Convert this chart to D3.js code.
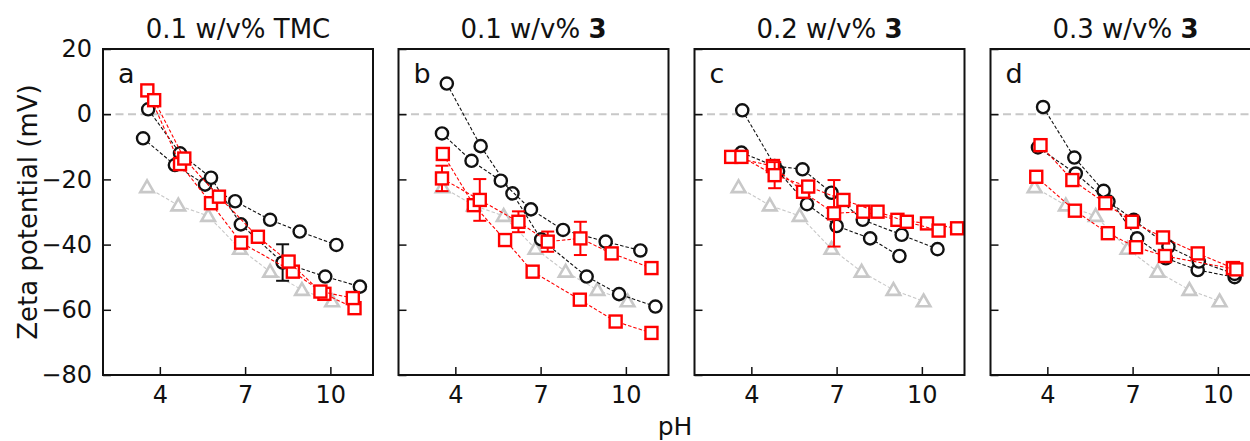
<!DOCTYPE html>
<html><head><meta charset="utf-8">
<script src="https://cdn.jsdelivr.net/npm/d3@7"></script>
<style>body{margin:0;background:#fff}svg{display:block}text{font-family:"DejaVu Sans",sans-serif}</style>
</head><body><div id="chart"></div>
<script>
// ---------- data ----------
const panelTitles = ["0.1 w/v% ", "0.1 w/v% ", "0.2 w/v% ", "0.3 w/v% "];
const panelTitleBold = ["", "3", "3", "3"];
const panelTitleTail = ["TMC", "", "", ""];
const panelLetters = ["a", "b", "c", "d"];
const xTicks = [4, 7, 10];
const yTicks = [20, 0, -20, -40, -60, -80];

// gray reference (same in every panel)
const triPH = [3.55, 4.65, 5.7, 6.82, 7.88, 9.0, 10.06];
const triZ  = [-22.4, -28.0, -31.2, -41.3, -48.3, -53.9, -57.4];

// panel a
const aBlk1PH = [3.41, 4.53, 5.59, 6.65, 7.88, 8.92, 10.21];
const aBlk1Z  = [-7.4, -15.6, -21.6, -26.7, -32.4, -36.0, -40.1];
const aBlk2PH = [3.59, 4.71, 5.8, 6.85, 8.32, 9.82, 11.04];
const aBlk2Z  = [1.5, -12.0, -19.5, -33.8, -45.5, -49.8, -52.9];
const aBlk2E  = [0, 0, 0, 0, 5.6, 0, 0];
const aRed1PH = [3.56, 4.71, 5.8, 6.86, 8.68, 9.79, 10.85];
const aRed1Z  = [7.3, -15.3, -27.3, -39.4, -48.3, -55.1, -59.5];
const aRed2PH = [3.8, 4.86, 6.08, 7.45, 8.53, 9.65, 10.79];
const aRed2Z  = [4.3, -13.6, -25.3, -37.6, -45.2, -54.4, -56.4];

// panel b
const bBlk1PH = [3.70, 4.89, 6.01, 7.02, 8.62, 9.76, 11.04];
const bBlk1Z  = [9.4, -9.8, -24.3, -38.4, -49.8, -55.2, -59.0];
const bBlk2PH = [3.53, 4.57, 5.6, 6.66, 7.79, 9.29, 10.51];
const bBlk2Z  = [-5.9, -14.3, -20.4, -29.2, -35.5, -39.1, -41.8];
const bRed1PH = [3.56, 4.65, 5.75, 6.72, 8.38, 9.64, 10.9];
const bRed1Z  = [-12.2, -27.9, -38.6, -48.3, -56.9, -63.6, -67.1];
const bRed2PH = [3.53, 4.86, 6.22, 7.25, 8.40, 9.5, 10.9];
const bRed2Z  = [-19.7, -26.3, -33.0, -39.1, -38.1, -42.7, -47.2];
const bRed2E  = [3.9, 6.4, 3.2, 3.1, 5.1, 0, 0];

// panel c
const cBlk1PH = [3.68, 4.94, 5.96, 7.0, 8.18, 9.21];
const cBlk1Z  = [1.2, -17.5, -27.6, -34.3, -38.1, -43.5];
const cBlk2PH = [3.65, 4.82, 5.8, 6.82, 7.92, 9.29, 10.55];
const cBlk2Z  = [-11.8, -15.9, -16.9, -24.1, -32.4, -37.0, -41.4];
const cRed1PH = [3.29, 4.76, 5.82, 6.91, 7.94, 9.14, 10.18, 11.24];
const cRed1Z  = [-13.1, -15.9, -23.8, -30.4, -29.9, -32.4, -33.5, -35.0];
const cRed1E  = [0, 0, 0, 10.2, 0, 0, 0, 0];
const cRed2PH = [3.65, 4.82, 6.0, 7.24, 8.44, 9.47, 10.59];
const cRed2Z  = [-13.1, -18.7, -22.2, -26.3, -29.9, -33.0, -35.7];
const cRed2E  = [0, 4.0, 0, 0, 0, 0, 0];

// panel d
const dBlk1PH = [3.85, 4.95, 5.98, 7.16, 8.17, 9.29, 10.59];
const dBlk1Z  = [2.2, -13.3, -23.5, -38.1, -44.2, -47.8, -50.0];
const dBlk2PH = [3.67, 5.0, 6.15, 7.04, 8.26, 9.33, 10.59];
const dBlk2Z  = [-10.2, -18.2, -26.8, -32.4, -40.6, -45.2, -49.0];
const dRed1PH = [3.76, 4.88, 6.04, 6.98, 8.07, 9.29, 10.53];
const dRed1Z  = [-9.5, -20.2, -27.3, -33.0, -37.8, -42.7, -47.2];
const dRed2PH = [3.61, 4.97, 6.13, 7.12, 8.14, 10.65];
const dRed2Z  = [-19.2, -29.6, -36.5, -40.8, -43.5, -47.6];

// ---------- build ----------
function mk(ph, z, e) { return ph.map((p, i) => ({x: p, y: z[i], e: e ? e[i] : 0})); }
const panels = [
  {blk: [mk(aBlk1PH, aBlk1Z), mk(aBlk2PH, aBlk2Z, aBlk2E)], red: [mk(aRed1PH, aRed1Z), mk(aRed2PH, aRed2Z)]},
  {blk: [mk(bBlk1PH, bBlk1Z), mk(bBlk2PH, bBlk2Z)], red: [mk(bRed1PH, bRed1Z), mk(bRed2PH, bRed2Z, bRed2E)]},
  {blk: [mk(cBlk1PH, cBlk1Z), mk(cBlk2PH, cBlk2Z)], red: [mk(cRed1PH, cRed1Z, cRed1E), mk(cRed2PH, cRed2Z, cRed2E)]},
  {blk: [mk(dBlk1PH, dBlk1Z), mk(dBlk2PH, dBlk2Z)], red: [mk(dRed1PH, dRed1Z), mk(dRed2PH, dRed2Z)]}
];
const tri = mk(triPH, triZ);

const W = 1250, H = 441;
const svg = d3.select("#chart").append("svg").attr("width", W).attr("height", H);
const lefts = [103, 398.5, 694.5, 990.5];
const pw = 270, topY = 49, ph = 326;
const x = d3.scaleLinear().domain([2, 11.5]).range([0, pw]);
const y = d3.scaleLinear().domain([-80, 20]).range([ph, 0]);
const line = d3.line().x(d => x(d.x)).y(d => y(d.y));
const GRAY = "#c8c8c8", RED = "#ff0000", BLK = "#111";

panels.forEach((P, k) => {
  const g = svg.append("g").attr("transform", `translate(${lefts[k]},${topY})`);
  // zero line
  g.append("line").attr("x1", 0).attr("x2", pw).attr("y1", y(0)).attr("y2", y(0))
    .attr("stroke", GRAY).attr("stroke-width", 2).attr("stroke-dasharray", "8,4.5");

  function series(data, color, shape) {
    const s = g.append("g");
    s.append("path").datum(data).attr("d", line).attr("fill", "none")
      .attr("stroke", color).attr("stroke-width", 1.1).attr("stroke-dasharray", "3.5,2");
    data.filter(d => d.e > 0).forEach(d => {
      const eb = s.append("g").attr("stroke", color).attr("stroke-width", 2);
      eb.append("line").attr("x1", x(d.x)).attr("x2", x(d.x)).attr("y1", y(d.y - d.e)).attr("y2", y(d.y + d.e));
      eb.append("line").attr("x1", x(d.x) - 6.5).attr("x2", x(d.x) + 6.5).attr("y1", y(d.y - d.e)).attr("y2", y(d.y - d.e));
      eb.append("line").attr("x1", x(d.x) - 6.5).attr("x2", x(d.x) + 6.5).attr("y1", y(d.y + d.e)).attr("y2", y(d.y + d.e));
    });
    const m = s.selectAll(".m").data(data).enter();
    if (shape === "circle") {
      m.append("circle").attr("cx", d => x(d.x)).attr("cy", d => y(d.y)).attr("r", 6.1)
        .attr("fill", "#fff").attr("stroke", color).attr("stroke-width", 2.4);
    } else if (shape === "square") {
      m.append("rect").attr("x", d => x(d.x) - 6).attr("y", d => y(d.y) - 6)
        .attr("width", 12).attr("height", 12)
        .attr("fill", "#fff").attr("stroke", color).attr("stroke-width", 2.4);
    } else {
      const sym = d3.symbol().type(d3.symbolTriangle).size(80);
      m.append("path").attr("d", sym).attr("transform", d => `translate(${x(d.x)},${y(d.y) + 1})`)
        .attr("fill", "#fff").attr("stroke", color).attr("stroke-width", 2.6);
    }
  }
  series(tri, GRAY, "tri");
  P.blk.forEach(s => series(s, BLK, "circle"));
  P.red.forEach(s => series(s, RED, "square"));

  // axes
  const ax = d3.axisLeft(y).tickValues(yTicks).tickSizeInner(-8).tickSizeOuter(0).tickPadding(11);
  if (k > 0) ax.tickFormat("");
  const ga = g.append("g").call(ax);
  const bx = d3.axisBottom(x).tickValues(xTicks).tickSizeInner(-8).tickSizeOuter(0).tickPadding(11);
  const gb = g.append("g").attr("transform", `translate(0,${ph})`).call(bx);
  [ga, gb].forEach(a => {
    a.select(".domain").remove();
    a.selectAll("line").attr("stroke", "#111").attr("stroke-width", 1.5);
    a.selectAll("text").attr("font-size", 24).attr("fill", "#111").attr("font-family", "DejaVu Sans");
  });
  g.append("rect").attr("x", 0).attr("y", 0).attr("width", pw).attr("height", ph)
    .attr("fill", "none").attr("stroke", "#111").attr("stroke-width", 2);

  // letter
  g.append("text").attr("x", 15).attr("y", 34).attr("font-size", 27).attr("fill", "#111").text(panelLetters[k]);
  // title
  const t = svg.append("text").attr("x", lefts[k] + pw / 2).attr("y", 38).attr("text-anchor", "middle")
    .attr("font-size", 26).attr("fill", "#111");
  t.append("tspan").text(panelTitles[k]);
  if (panelTitleBold[k]) t.append("tspan").attr("font-weight", "bold").text(panelTitleBold[k]);
  if (panelTitleTail[k]) t.append("tspan").text(panelTitleTail[k]);
});

svg.append("text").attr("x", 675).attr("y", 435).attr("text-anchor", "middle")
  .attr("font-size", 25).attr("fill", "#111").text("pH");
svg.append("text").attr("transform", `translate(37,212) rotate(-90)`).attr("text-anchor", "middle")
  .attr("font-size", 26).attr("fill", "#111").text("Zeta potential (mV)");
</script></body></html>
